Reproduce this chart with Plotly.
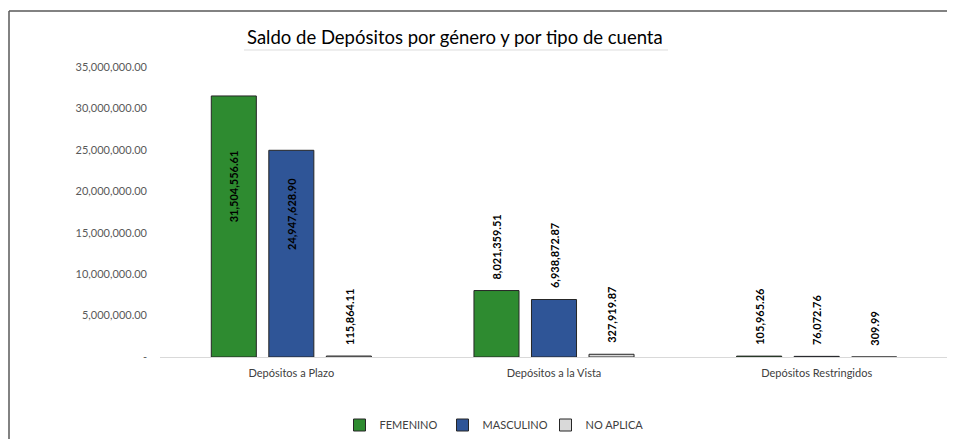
import plotly.graph_objects as go

categories = ["Depósitos a Plazo", "Depósitos a la Vista", "Depósitos Restringidos"]
series_names = ["FEMENINO", "MASCULINO", "NO APLICA"]
femenino = [31504556.61, 8021359.51, 105965.26]
masculino = [24947628.90, 6938872.87, 76072.76]
no_aplica = [115864.11, 327919.87, 309.99]
tick_vals = [0, 5000000, 10000000, 15000000, 20000000, 25000000, 30000000, 35000000]
tick_text = ["-", "5,000,000.00", "10,000,000.00", "15,000,000.00", "20,000,000.00",
             "25,000,000.00", "30,000,000.00", "35,000,000.00"]

colors = ["#2E8B30", "#2F5597", "#D9D9D9"]
FONT = "Lato"
BARGAP = 0.343
series = [femenino, masculino, no_aplica]

PW, PH = 788, 290

def px_x(p):
    return (p - 160) / PW

def px_y(p):
    return (357 - p) / PH

fig = go.Figure()
for name, vals, col in zip(series_names, series, colors):
    fig.add_trace(go.Bar(
        x=categories, y=vals, name=name,
        marker=dict(color=col, line=dict(color="#262626", width=1)),
        hoverinfo="x+y+name",
    ))

ymax = max(max(s) for s in series)
slot = (1 - BARGAP) / len(series)
annotations = []
for si, vals in enumerate(series):
    off = (si - (len(series) - 1) / 2) * slot
    for ci, v in enumerate(vals):
        txt = f"{v:,.2f}"
        if v > 0.3 * ymax:
            annotations.append(dict(x=ci + off, y=v / 2, xref="x", yref="y", text=txt,
                                    textangle=-90, showarrow=False, yanchor="middle",
                                    yshift=40,
                                    font=dict(family=FONT, size=11, color="#000000", weight="bold")))
        else:
            annotations.append(dict(x=ci + off, y=v, xref="x", yref="y", text=txt,
                                    textangle=-90, showarrow=False, yanchor="bottom",
                                    yshift=9,
                                    font=dict(family=FONT, size=11, color="#000000", weight="bold")))

annotations.append(dict(x=px_x(455), y=px_y(37), xref="paper", yref="paper",
                        text="Saldo de Depósitos por género y por tipo de cuenta",
                        showarrow=False, xanchor="center", yanchor="middle",
                        font=dict(family=FONT, size=18.5, color="#000000")))

fig.update_layout(
    width=947, height=431,
    margin=dict(l=152, r=7, t=59, b=82, autoexpand=False),
    paper_bgcolor="white", plot_bgcolor="white",
    barmode="group", bargap=BARGAP, bargroupgap=0.217,
    font=dict(family=FONT, size=11, color="#404040"),
    showlegend=True,
    legend=dict(orientation="h", x=px_x(494), xanchor="center",
                y=px_y(425), yanchor="middle",
                font=dict(family=FONT, size=11, color="#404040"),
                itemwidth=30, entrywidth=58, entrywidthmode="pixels",
                traceorder="normal"),
    annotations=annotations,
    shapes=[
        dict(type="line", xref="paper", yref="paper",
             x0=px_x(9), x1=1.2, y0=px_y(11), y1=px_y(11),
             line=dict(color="#595959", width=1.5), layer="below"),
        dict(type="line", xref="paper", yref="paper",
             x0=px_x(9), x1=px_x(9), y0=px_y(11), y1=-0.6,
             line=dict(color="#595959", width=1.5), layer="below"),
        dict(type="line", xref="paper", yref="paper",
             x0=px_x(244), x1=px_x(668), y0=px_y(50), y1=px_y(50),
             line=dict(color="#EEEEEE", width=2), layer="below"),
    ],
)
fig.update_xaxes(showgrid=False, showline=True, linecolor="#D9D9D9", linewidth=1,
                 ticks="", ticklabelstandoff=6,
                 tickfont=dict(family=FONT, size=11, color="#404040"))
fig.update_yaxes(range=[0, 35000000], tickvals=tick_vals, ticktext=tick_text,
                 showgrid=False, zeroline=False, showline=False, ticks="",
                 ticklabelstandoff=12,
                 tickfont=dict(family=FONT, size=11, color="#595959"))

fig.write_html("out.html", config={"displayModeBar": False})
